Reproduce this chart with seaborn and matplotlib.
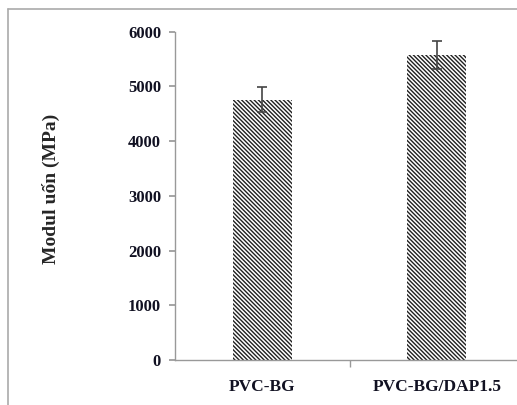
import numpy as np
import pandas as pd
import matplotlib
matplotlib.use("Agg")
import matplotlib.pyplot as plt
import seaborn as sns
from matplotlib.lines import Line2D

# Dữ liệu
samples = ["PVC-BG", "PVC-BG/DAP1.5"]
modulus = [4760, 5570]
modulus_err = [230, 260]
y_ticks = [0, 1000, 2000, 3000, 4000, 5000, 6000]

df = pd.DataFrame({"sample": samples, "modulus": modulus})

sns.set_theme(style="white")
plt.rcParams["font.family"] = ["Liberation Serif", "DejaVu Serif"]
plt.rcParams["font.weight"] = "bold"
plt.rcParams["hatch.linewidth"] = 1.0

fig = plt.figure(figsize=(5.17, 4.05), dpi=100)
ax = fig.add_axes([175 / 517, 45 / 405, 349 / 517, 328.3 / 405])

sns.barplot(data=df, x="sample", y="modulus", color="white", width=0.34,
            errorbar=None, ax=ax)
for bar in ax.patches:
    bar.set_hatch("\\" * 8)
    bar.set_edgecolor("#202020")
    bar.set_linewidth(0)

ax.errorbar(x=np.arange(len(samples)), y=modulus, yerr=modulus_err,
            fmt="none", ecolor="#444444", elinewidth=1.2, capsize=3.5, capthick=1.2)

ax.set_ylim(0, 6000)
ax.set_xlim(-0.5, 1.5)
ax.set_yticks(y_ticks)
ax.set_xlabel("")
ax.set_ylabel("Modul uốn (MPa)", fontsize=14, fontweight="bold")
ax.yaxis.set_label_coords(-0.33, 0.52)
ax.tick_params(axis="y", labelsize=12, length=4, color="#999999", left=True, pad=6)
ax.tick_params(axis="x", labelsize=12.5, length=0, pad=14)
ax.set_xticks([0.5], minor=True)
ax.tick_params(axis="x", which="minor", length=5, color="#999999", bottom=True)

for lab in ax.get_xticklabels() + ax.get_yticklabels():
    lab.set_fontweight("bold")
    lab.set_color("#111122")

sns.despine(ax=ax, top=True, right=True)
for s in ["left", "bottom"]:
    ax.spines[s].set_color("#999999")
    ax.spines[s].set_linewidth(1.0)

# Khung viền ngoài
fig.add_artist(Line2D([8 / 517, 8 / 517], [0, 1 - 9 / 405], transform=fig.transFigure,
                      color="#aaaaaa", linewidth=1.2))
fig.add_artist(Line2D([8 / 517, 1], [1 - 9 / 405, 1 - 9 / 405], transform=fig.transFigure,
                      color="#aaaaaa", linewidth=1.2))

fig.savefig("out.png", dpi=100)
